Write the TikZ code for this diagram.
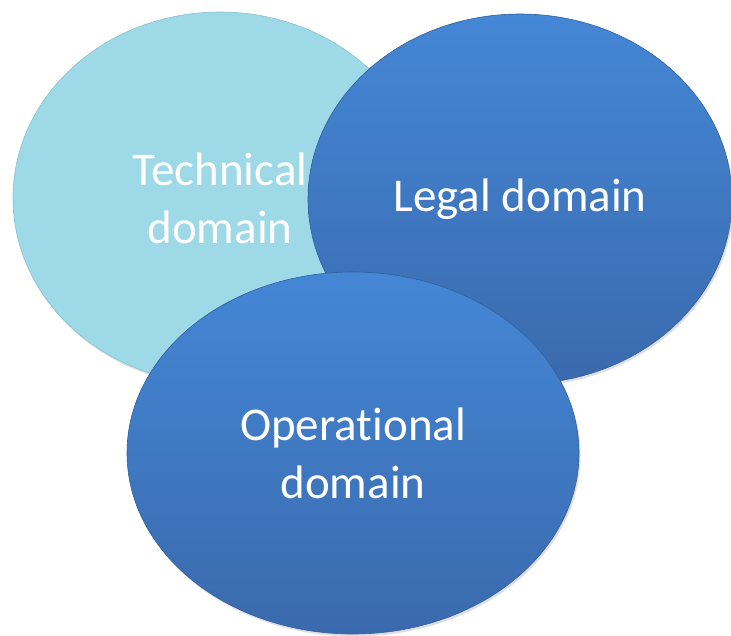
\documentclass[tikz,border=0pt]{standalone}
\usepackage{fontspec}
\setmainfont[Ligatures=NoCommon]{Carlito}
\usepackage{tikz}
\usetikzlibrary{shapes,shadows}
\definecolor{dmnhat}{HTML}{9ED9E7}
\definecolor{dmnhatvien}{HTML}{86C3D2}
\definecolor{dmtren}{HTML}{4487D6}
\definecolor{dmduoi}{HTML}{3A6AAD}
\definecolor{dmvien}{HTML}{33609C}
\def\mausang{dmnhat}
\def\mautren{dmtren}
\def\mauduoi{dmduoi}
\def\mauvien{dmvien}

\begin{document}
\begin{tikzpicture}[x=1pt,y=-1pt,
	vung/.style={ellipse, inner sep=0pt, align=center, text=white,
		font=\fontsize{47}{58}\selectfont, line width=.6pt,
		drop shadow={opacity=.25, shadow xshift=1.5pt, shadow yshift=-2.5pt}},
	vungxanh/.style={vung, draw=\mauvien, top color=\mautren, bottom color=\mauduoi}]
		\useasboundingbox (0,0) rectangle (731,635);
		\path (220,198) node [vung, fill=\mausang, draw=dmnhatvien,
			minimum width=414, minimum height=372] (kythuat) {Technical\\domain};
		\path (520,199) node [vungxanh, minimum width=424, minimum height=370] (phaply) {Legal domain};
		\path (353,453) node [vungxanh, minimum width=452, minimum height=362] (vanhanh) {Operational\\domain};
	\end{tikzpicture}
\end{document}
